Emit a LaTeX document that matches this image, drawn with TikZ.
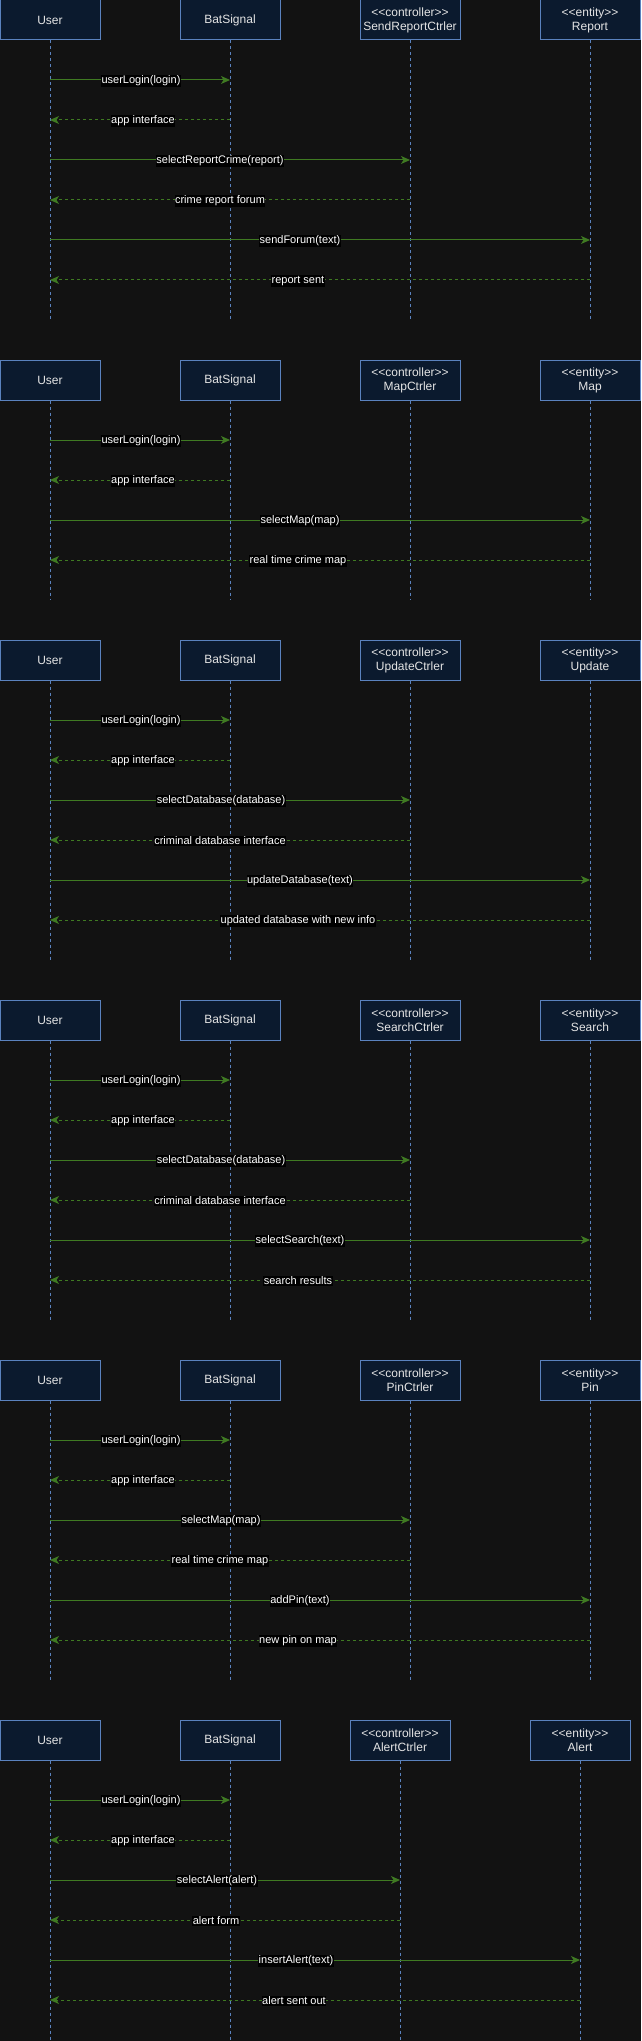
\documentclass[tikz,border=0pt]{standalone}
\usepackage{fontspec}
\setmainfont{Liberation Sans}
\usetikzlibrary{arrows.meta}
\definecolor{bg}{HTML}{121212}
\definecolor{boxfill}{HTML}{0B1A2E}
\definecolor{boxline}{HTML}{5A82BE}
\definecolor{msgc}{HTML}{3F7A22}
\definecolor{boxtext}{HTML}{E4E4E4}
\tikzset{
 actor/.style={draw=boxline, fill=boxfill, line width=1pt, minimum width=100pt, minimum height=40pt, inner sep=0pt, text=boxtext, font=\fontsize{12}{14}\selectfont, align=center},
 life/.style={draw=boxline, line width=1pt, dash pattern=on 3pt off 3pt},
 call/.style={draw=msgc, line width=1pt, -{Stealth[length=9pt,width=8pt,inset=2.5pt]}},
 reply/.style={call, dash pattern=on 3pt off 3pt},
 lbl/.style={fill=black, text=white, font=\fontsize{11}{13}\selectfont, inner xsep=0.5pt, inner ysep=1pt},
}
% #1 id, #2 top y, #3 controller name, #4 entity name, #5 x shift, #6 lifeline end y
\newcommand\mkdiag[6]{%
 \node[actor] (#1u) at (50,#2+20) {User};
 \node[actor] (#1b) at (230,#2+20) {BatSignal};
 \node[actor] (#1c) at (410-#5,#2+20) {<{}<controller>{}>\\#3};
 \node[actor] (#1e) at (590-#5,#2+20) {<{}<entity>{}>\\#4};
 \coordinate (#1uz) at (50,#6);
 \foreach \p in {u,b,c,e}{\draw[life] (#1\p.south) -- (#1\p.south |- #1uz);}
}
% #1 style, #2 from, #3 to, #4 y, #5 label x, #6 text
\newcommand\msg[6]{%
 \coordinate (m@a) at (0,#4);
 \draw[#1] (#2 |- m@a) -- (#3 |- m@a);
 \node[lbl] at (#5,#4+1) {#6};
}
\begin{document}
\begin{tikzpicture}[x=1pt,y=-1pt]
\fill[bg] (0,0) rectangle (641,2041);
\useasboundingbox (0,0) rectangle (641,2041);
% diagram 1
\mkdiag{a}{0}{SendReportCtrler}{Report}{0}{320}
\msg{call}{au}{ab}{80}{141}{userLogin(login)}
\msg{reply}{ab}{au}{120}{143}{app interface}
\msg{call}{au}{ac}{160}{220}{selectReportCrime(report)}
\msg{reply}{ac}{au}{200}{220}{crime report forum}
\msg{call}{au}{ae}{240}{300}{sendForum(text)}
\msg{reply}{ae}{au}{280}{298}{report sent}
% diagram 2
\mkdiag{b}{360}{MapCtrler}{Map}{0}{600}
\msg{call}{bu}{bb}{440}{141}{userLogin(login)}
\msg{reply}{bb}{bu}{480}{143}{app interface}
\msg{call}{bu}{be}{520}{300}{selectMap(map)}
\msg{reply}{be}{bu}{560}{298}{real time crime map}
% diagram 3
\mkdiag{c}{640}{UpdateCtrler}{Update}{0}{960}
\msg{call}{cu}{cb}{720}{141}{userLogin(login)}
\msg{reply}{cb}{cu}{760}{143}{app interface}
\msg{call}{cu}{cc}{800}{221}{selectDatabase(database)}
\msg{reply}{cc}{cu}{840}{220}{criminal database interface}
\msg{call}{cu}{ce}{880}{300}{updateDatabase(text)}
\msg{reply}{ce}{cu}{920}{298}{updated database with new info}
% diagram 4
\mkdiag{d}{1000}{SearchCtrler}{Search}{0}{1320}
\msg{call}{du}{db}{1080}{141}{userLogin(login)}
\msg{reply}{db}{du}{1120}{143}{app interface}
\msg{call}{du}{dc}{1160}{221}{selectDatabase(database)}
\msg{reply}{dc}{du}{1200}{220}{criminal database interface}
\msg{call}{du}{de}{1240}{300}{selectSearch(text)}
\msg{reply}{de}{du}{1280}{298}{search results}
% diagram 5
\mkdiag{e}{1360}{PinCtrler}{Pin}{0}{1680}
\msg{call}{eu}{eb}{1440}{141}{userLogin(login)}
\msg{reply}{eb}{eu}{1480}{143}{app interface}
\msg{call}{eu}{ec}{1520}{221}{selectMap(map)}
\msg{reply}{ec}{eu}{1560}{220}{real time crime map}
\msg{call}{eu}{ee}{1600}{300}{addPin(text)}
\msg{reply}{ee}{eu}{1640}{298}{new pin on map}
% diagram 6
\mkdiag{f}{1720}{AlertCtrler}{Alert}{10}{2041}
\msg{call}{fu}{fb}{1800}{141}{userLogin(login)}
\msg{reply}{fb}{fu}{1840}{143}{app interface}
\msg{call}{fu}{fc}{1880}{217}{selectAlert(alert)}
\msg{reply}{fc}{fu}{1920}{216}{alert form}
\msg{call}{fu}{fe}{1960}{296}{insertAlert(text)}
\msg{reply}{fe}{fu}{2000}{294}{alert sent out}
\end{tikzpicture}
\end{document}
